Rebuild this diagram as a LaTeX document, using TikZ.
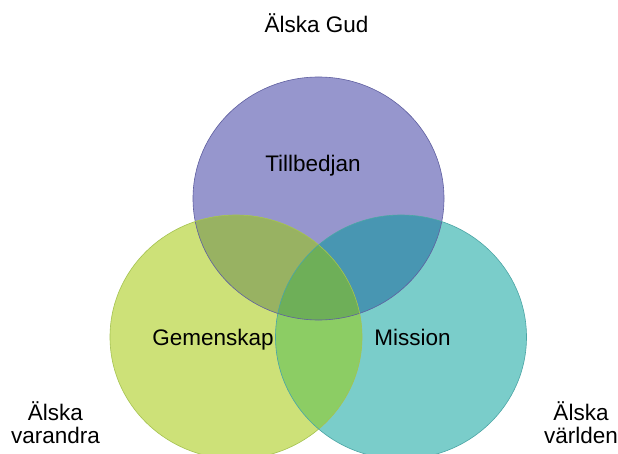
\documentclass[tikz,border=0pt]{standalone}
\usepackage{fontspec}
\setmainfont{Liberation Sans}
\definecolor{topfill}{RGB}{150,150,205}
\definecolor{leftfill}{RGB}{205,225,120}
\definecolor{rightfill}{RGB}{122,205,202}
\definecolor{tlfill}{RGB}{152,178,98}
\definecolor{trfill}{RGB}{72,150,178}
\definecolor{lrfill}{RGB}{140,205,100}
\definecolor{allfill}{RGB}{110,175,88}
\definecolor{topline}{RGB}{95,95,160}
\definecolor{leftline}{RGB}{165,195,80}
\definecolor{rightline}{RGB}{75,165,165}
\begin{document}
\begin{tikzpicture}[x=1pt, y=-1pt,
		lbl/.style={font=\fontsize{22.5}{23}\selectfont, align=center, inner sep=0pt},
		ring/.style={line width=0.6pt}]
	\useasboundingbox[fill=white] (0,0) rectangle (618,454);

	\coordinate (gud) at (318.5,198.5);
	\coordinate (vara) at (236,337);
	\coordinate (varld) at (401,337);
	\def\topring{(gud) ellipse [x radius=125.5pt, y radius=121.5pt]}
	\def\leftring{(vara) ellipse [x radius=126pt, y radius=122pt]}
	\def\rightring{(varld) ellipse [x radius=125.5pt, y radius=122pt]}

	% the three areas
	\fill[topfill] \topring;
	\fill[leftfill] \leftring;
	\fill[rightfill] \rightring;
	% where they overlap
	\begin{scope}
		\clip \topring;
		\fill[tlfill] \leftring;
		\fill[trfill] \rightring;
	\end{scope}
	\begin{scope}
		\clip \leftring;
		\fill[lrfill] \rightring;
		\clip \topring;
		\fill[allfill] \rightring;
	\end{scope}
	\draw[ring, topline] \topring;
	\draw[ring, leftline] \leftring;
	\draw[ring, rightline] \rightring;

	\node[lbl, anchor=base] (tillbedjan) at (313,171.5) {Tillbedjan};
	\node[lbl, anchor=base] (gemenskap) at (213,345) {Gemenskap};
	\node[lbl, anchor=base] (mission) at (412.5,345) {Mission};

	\node[lbl, anchor=base] (alskagud) at (316.5,32.5) {Älska Gud};
	\node[lbl] (alskavarandra) at (55.5,422.5) {Älska\\varandra};
	\node[lbl] (alskavarlden) at (581,422.5) {Älska\\världen};
\end{tikzpicture}
\end{document}
